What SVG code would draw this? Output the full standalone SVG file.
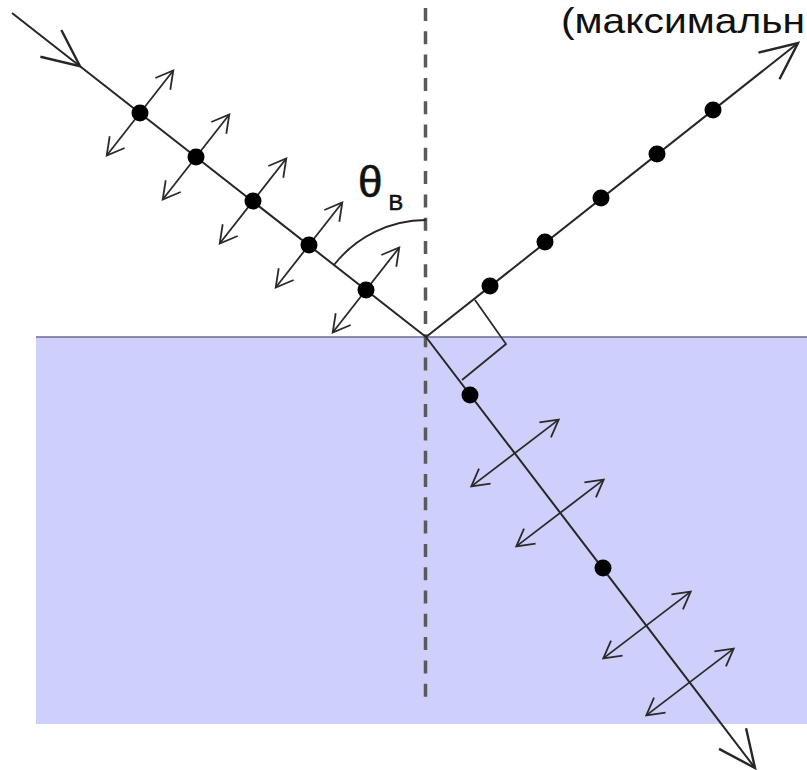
<svg xmlns="http://www.w3.org/2000/svg" width="807" height="770" viewBox="0 0 807 770">
  <style>
    .ray{fill:none;stroke:#262626;stroke-width:2}
    .pol{fill:none;stroke:#2a2a2a;stroke-width:1.8;marker-start:url(#small);marker-end:url(#small)}
    .dot{fill:#000}
    .lbl{font-family:"Liberation Sans",Arial,sans-serif;fill:#111;stroke:#111;stroke-width:0.6}
  </style>
  <defs>
    <marker id="big" markerUnits="userSpaceOnUse" viewBox="-42 -21 46 42" markerWidth="46" markerHeight="42" refX="0" refY="0" orient="auto">
      <path d="M-37,-17 L0,0 L-37,17" fill="none" stroke="#262626" stroke-width="2.4"/>
    </marker>
    <marker id="small" markerUnits="userSpaceOnUse" viewBox="-20 -12 24 24" markerWidth="24" markerHeight="24" refX="0" refY="0" orient="auto-start-reverse">
      <path d="M-17,-9.5 L0,0 L-17,9.5" fill="none" stroke="#2a2a2a" stroke-width="1.8"/>
    </marker>
  </defs>

  <g id="medium">
    <rect x="36" y="337" width="771" height="387" fill="#CFCFFB"/>
    <line x1="36" y1="337" x2="807" y2="337" stroke="#6b6b8f" stroke-width="1.6"/>
  </g>

  <g id="normal">
    <line x1="425.5" y1="8" x2="425.5" y2="698" stroke="#5a5a5a" stroke-width="3.5" stroke-dasharray="13 10.3"/>
  </g>

  <g id="connectors">
    <path id="incident" class="ray" d="M12,13 L80,66.2 L426,337" marker-mid="url(#big)"/>
    <path id="reflected" class="ray" d="M426,337 L798,43" marker-end="url(#big)"/>
    <path id="refracted" class="ray" d="M426,337 L755,768" marker-end="url(#big)"/>
  </g>

  <g id="incident-polarization">
    <line class="pol" x1="106.7" y1="155.5" x2="173.3" y2="70.5"/>
    <line class="pol" x1="162.7" y1="199.5" x2="229.3" y2="114.5"/>
    <line class="pol" x1="219.7" y1="243.5" x2="286.3" y2="158.5"/>
    <line class="pol" x1="275.7" y1="287.5" x2="342.3" y2="202.5"/>
    <line class="pol" x1="332.7" y1="332.5" x2="399.3" y2="247.5"/>
    <circle class="dot" cx="140" cy="113" r="8.5"/>
    <circle class="dot" cx="196" cy="157" r="8.5"/>
    <circle class="dot" cx="253" cy="201" r="8.5"/>
    <circle class="dot" cx="309" cy="245" r="8.5"/>
    <circle class="dot" cx="366" cy="290" r="8.5"/>
  </g>

  <g id="reflected-polarization">
    <circle class="dot" cx="490" cy="286" r="8.5"/>
    <circle class="dot" cx="545" cy="242" r="8.5"/>
    <circle class="dot" cx="601" cy="198" r="8.5"/>
    <circle class="dot" cx="657" cy="154" r="8.5"/>
    <circle class="dot" cx="713" cy="110" r="8.5"/>
  </g>

  <g id="refracted-polarization">
    <circle class="dot" cx="470" cy="395" r="8.5"/>
    <circle class="dot" cx="603" cy="568" r="8.5"/>
    <line class="pol" x1="471.3" y1="486.4" x2="558.7" y2="419.6"/>
    <line class="pol" x1="516.3" y1="546.4" x2="603.7" y2="479.6"/>
    <line class="pol" x1="603.3" y1="658.4" x2="690.7" y2="591.6"/>
    <line class="pol" x1="646.3" y1="715.4" x2="733.7" y2="648.6"/>
  </g>

  <g id="right-angle">
    <polyline points="475,300 506,344 462,380" fill="none" stroke="#2a2a2a" stroke-width="1.8"/>
  </g>

  <g id="brewster-angle">
    <path d="M334,265 A117,117 0 0 1 426,220" fill="none" stroke="#262626" stroke-width="1.8"/>
    <text class="lbl" x="358" y="197" font-size="44">θ</text>
    <text class="lbl" x="388.5" y="209.5" font-size="22">B</text>
  </g>

  <g id="caption">
    <text x="561" y="32.5" font-family="'Liberation Sans',Arial,sans-serif" font-size="35" fill="#111" textLength="244" lengthAdjust="spacingAndGlyphs">(максимальн</text>
  </g>
</svg>
